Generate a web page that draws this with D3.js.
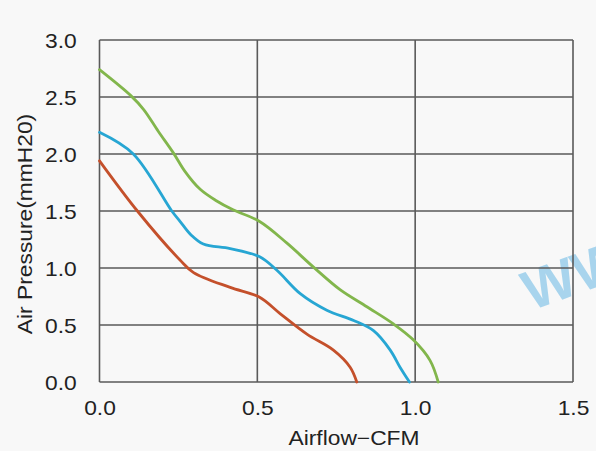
<!DOCTYPE html>
<html>
<head>
<meta charset="utf-8">
<script src="https://cdn.jsdelivr.net/npm/d3@7"></script>
<style>
  html, body { margin: 0; padding: 0; background: #f8f8f8; }
  svg { display: block; }
  text { font-family: "Liberation Sans", Arial, sans-serif; fill: #222; }
</style>
</head>
<body>
<svg id="chart" width="596" height="451"></svg>
<script>
// ---- data ----
const xTicks = [0.0, 0.5, 1.0, 1.5];
const yTicks = [0.0, 0.5, 1.0, 1.5, 2.0, 2.5, 3.0];
const xTitle = "Airflow\u2212CFM";
const yTitle = "Air Pressure(mmH20)";
const watermark = "WW";

const greenX = [0, 0.10, 0.14, 0.186, 0.234, 0.27, 0.319, 0.37, 0.423, 0.506, 0.593, 0.677, 0.762, 0.847, 0.931, 0.994, 1.047, 1.073];
const greenY = [2.74, 2.51, 2.39, 2.20, 2.01, 1.85, 1.69, 1.59, 1.51, 1.41, 1.22, 1.01, 0.81, 0.66, 0.51, 0.37, 0.19, 0.0];

const blueX = [0, 0.107, 0.229, 0.255, 0.29, 0.329, 0.414, 0.506, 0.562, 0.636, 0.72, 0.805, 0.868, 0.921, 0.952, 0.982];
const blueY = [2.19, 2.00, 1.50, 1.41, 1.29, 1.21, 1.17, 1.10, 0.98, 0.775, 0.63, 0.54, 0.45, 0.28, 0.13, 0.0];

const redX = [0, 0.12, 0.255, 0.298, 0.414, 0.506, 0.572, 0.657, 0.741, 0.794, 0.815];
const redY = [1.94, 1.50, 1.07, 0.96, 0.83, 0.745, 0.60, 0.42, 0.28, 0.13, 0.0];

const seriesNames = ["green", "blue", "red"];
const seriesColors = ["#82b64c", "#27a6d3", "#c4502b"];
const seriesX = [greenX, blueX, redX];
const seriesY = [greenY, blueY, redY];

// ---- layout ----
const svg = d3.select("#chart");
const m = { left: 99.5, right: 573, top: 40, bottom: 382 };
const x = d3.scaleLinear().domain([0, 1.5]).range([m.left, m.right]);
const y = d3.scaleLinear().domain([0, 3.0]).range([m.bottom, m.top]);

const gridColor = "#5a5a5a";

// watermark (cut off at the right edge, as in the reference)
svg.append("text")
  .attr("x", 531).attr("y", 311)
  .attr("transform", "rotate(-20,531,311)")
  .style("font-size", "56px")
  .style("font-weight", "bold")
  .style("fill", "#8ec9ea")
  .style("opacity", 0.75)
  .text(watermark);

// grid
svg.append("g").selectAll("line").data(yTicks).join("line")
  .attr("x1", m.left).attr("x2", m.right)
  .attr("y1", d => y(d)).attr("y2", d => y(d))
  .attr("stroke", gridColor).attr("stroke-width", 1.6);
svg.append("g").selectAll("line").data(xTicks).join("line")
  .attr("x1", d => x(d)).attr("x2", d => x(d))
  .attr("y1", m.top).attr("y2", m.bottom)
  .attr("stroke", gridColor).attr("stroke-width", 1.6);

// lines
const line = d3.line().curve(d3.curveCatmullRom.alpha(0.5));
seriesNames.forEach((name, i) => {
  const pts = seriesX[i].map((v, j) => [x(v), y(seriesY[i][j])]);
  svg.append("path")
    .attr("d", line(pts))
    .attr("fill", "none")
    .attr("stroke", seriesColors[i])
    .attr("stroke-width", 2.8)
    .attr("stroke-linejoin", "round")
    .attr("stroke-linecap", "round");
});

// axes tick labels via d3 axes
const fmt = d3.format(".1f");
const xAxis = svg.append("g")
  .attr("transform", `translate(0,${m.bottom})`)
  .call(d3.axisBottom(x).tickValues(xTicks).tickFormat(fmt).tickSize(0).tickPadding(0));
xAxis.select(".domain").remove();
xAxis.selectAll("text")
  .attr("y", 33).attr("dy", 0)
  .style("font-size", "20px").attr("fill", "#222")
  .attr("transform", "scale(1.14,1)");

const yAxis = svg.append("g")
  .attr("transform", `translate(${m.left},0)`)
  .call(d3.axisLeft(y).tickValues(yTicks).tickFormat(fmt).tickSize(0).tickPadding(0));
yAxis.select(".domain").remove();
yAxis.selectAll("text")
  .attr("x", -20).attr("dy", "0.36em")
  .style("font-size", "20px").attr("fill", "#222")
  .attr("transform", "scale(1.14,1)");

// axis titles
svg.append("text")
  .attr("transform", "translate(354,445) scale(1.14,1)")
  .attr("text-anchor", "middle")
  .style("font-size", "20px")
  .text(xTitle);

svg.append("text")
  .attr("transform", "translate(32,224) rotate(-90) scale(1.14,1)")
  .attr("text-anchor", "middle")
  .style("font-size", "20px")
  .text(yTitle);
</script>
</body>
</html>
